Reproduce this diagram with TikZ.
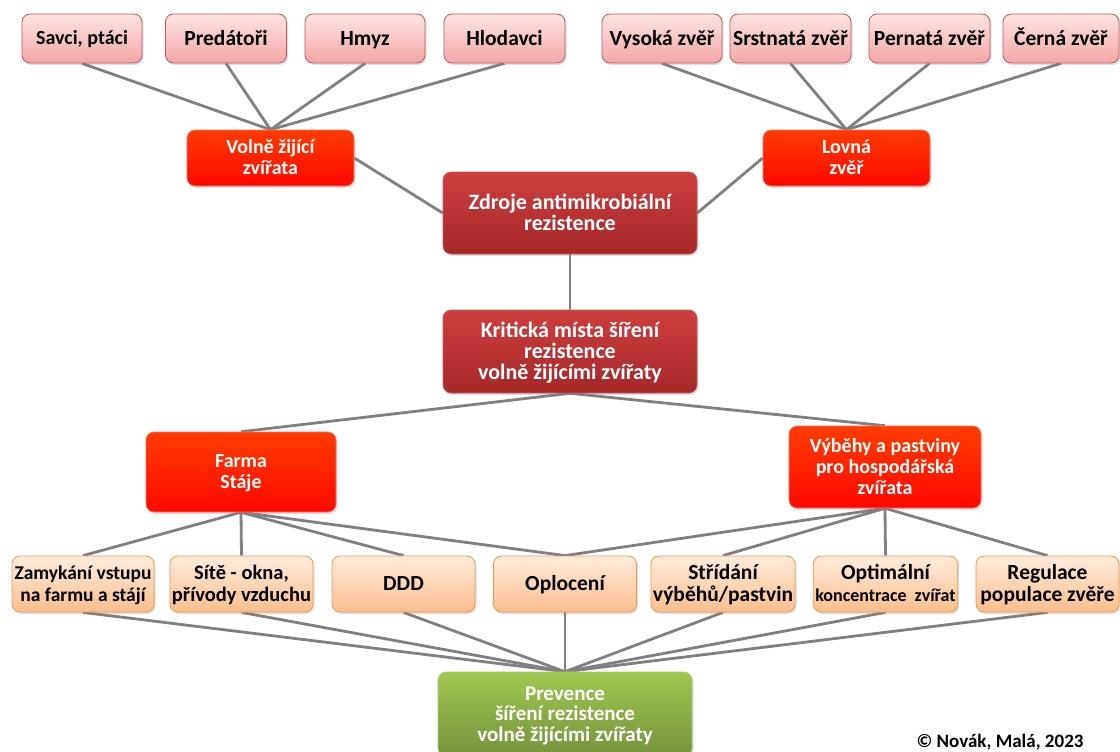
\documentclass[tikz,border=0pt]{standalone}
\usepackage{fontspec}
\setmainfont{Carlito}
\usetikzlibrary{shadows,backgrounds}

\definecolor{linkgray}{RGB}{128,128,128}
\definecolor{pinktop}{RGB}{253,228,228}
\definecolor{pinkbot}{RGB}{244,166,166}
\definecolor{pinkedge}{RGB}{196,86,84}
\definecolor{redtop}{RGB}{255,60,0}
\definecolor{redbot}{RGB}{255,8,0}
\definecolor{rededge}{RGB}{250,120,100}
\definecolor{darktop}{RGB}{206,62,62}
\definecolor{darkbot}{RGB}{165,40,40}
\definecolor{darkedge}{RGB}{200,90,90}
\definecolor{peachtop}{RGB}{255,236,220}
\definecolor{peachbot}{RGB}{251,190,140}
\definecolor{peachedge}{RGB}{247,150,70}
\definecolor{greentop}{RGB}{160,200,80}
\definecolor{greenbot}{RGB}{118,146,60}
\definecolor{greenedge}{RGB}{170,200,120}

\newcommand{\fsz}[2]{\fontsize{#1}{#2}\selectfont\bfseries}
% invisible rule beside the text block: it spans all lines of a box and
% places the block a little below the middle of the box
\def\boxlines{1}
\newcommand{\blockstrut}{\rule[-0.25em]{0pt}{\dimexpr\baselineskip*\boxlines-\baselineskip+0.894em+5pt\relax}}

\tikzset{
  x=1pt, y=-1pt,
  nlines/.code={\def\boxlines{#1}},
  boxbase/.style={rounded corners=8pt, align=center, inner sep=2pt,
    execute at begin node=\blockstrut, execute at end node=\blockstrut,
    drop shadow={opacity=0.25, shadow xshift=1.5pt, shadow yshift=-2pt}},
  leafbox/.style={boxbase, draw=pinkedge, line width=0.8pt,
    top color=pinktop, bottom color=pinkbot, text=black,
    font=\fsz{21.5}{24},
    minimum width=120pt, minimum height=49pt},
  groupbox/.style={boxbase, draw=rededge, line width=0.6pt,
    top color=redtop, bottom color=redbot, text=white,
    font=\fsz{20}{21}},
  corebox/.style={boxbase, draw=darkedge, line width=0.6pt,
    top color=darktop, bottom color=darkbot, text=white,
    font=\fsz{22}{21},
    minimum width=254pt},
  actbox/.style={boxbase, draw=peachedge, line width=0.8pt,
    top color=peachtop, bottom color=peachbot, text=black,
    font=\fsz{21.5}{22},
    minimum width=143pt, minimum height=56pt},
  goalbox/.style={boxbase, draw=greenedge, line width=0.6pt,
    top color=greentop, bottom color=greenbot, text=white,
    font=\fsz{21}{20.5},
    minimum width=254pt, minimum height=84pt},
  link/.style={draw=linkgray, line width=2.8pt},
}

\begin{document}
\begin{tikzpicture}
\useasboundingbox (0,0) rectangle (1120,752);

% sources: wild animals
\node[leafbox, font=\fsz{20}{24}] (savci) at (82,38.5) {Savci, ptáci};
\node[leafbox, minimum width=121pt] (predatori) at (226,38.5) {Predátoři};
\node[leafbox] (hmyz) at (365,38.5) {Hmyz};
\node[leafbox, minimum width=121pt] (hlodavci) at (504.5,38.5) {Hlodavci};
% sources: game
\node[leafbox] (vysoka) at (662,38.5) {Vysoká zvěř};
\node[leafbox, minimum width=121pt] (srstnata) at (790.5,38.5) {Srstnatá zvěř};
\node[leafbox, minimum width=121pt] (pernata) at (929.5,38.5) {Pernatá zvěř};
\node[leafbox, minimum width=116pt] (cerna) at (1061,38.5) {Černá zvěř};

\node[groupbox, nlines=2, minimum width=167pt, minimum height=56pt] (volne) at (270.5,158) {Volně žijící\\zvířata};
\node[groupbox, nlines=2, minimum width=167pt, minimum height=56pt] (lovna) at (846.5,158) {Lovná\\zvěř};

\node[corebox, nlines=2, minimum height=82pt] (zdroje) at (570,213) {Zdroje antimikrobiální\\rezistence};
\node[corebox, nlines=3, minimum height=83pt] (kriticka) at (570,351.5) {Kritická místa šíření\\rezistence\\volně žijícími zvířaty};

\node[groupbox, nlines=2, minimum width=190pt, minimum height=80pt] (farma) at (241,472) {Farma\\Stáje};
\node[groupbox, nlines=3, minimum width=192pt, minimum height=82pt] (vybehy) at (885,467) {Výběhy a pastviny\\pro hospodářská\\zvířata};

% preventive measures
\node[actbox, nlines=2, minimum width=142pt, font=\fsz{19.5}{22}] (zamykani) at (83,584) {Zamykání vstupu\\na farmu a stájí};
\node[actbox, nlines=2, font=\fsz{20.5}{22}] (site) at (241.5,584) {Sítě - okna,\\přívody vzduchu};
\node[actbox] (ddd) at (403.5,584) {DDD};
\node[actbox] (oploceni) at (565,584) {Oplocení};
\node[actbox, nlines=2] (stridani) at (723,584) {Střídání\\výběhů/pastvin};
\node[actbox, nlines=2] (optimalni) at (885.5,584) {Optimální\\{\fontsize{18}{22}\selectfont koncentrace\ \ zvířat}};
\node[actbox, nlines=2] (regulace) at (1047.5,584) {Regulace\\populace zvěře};

\node[goalbox, nlines=3] (prevence) at (565,714) {Prevence\\šíření rezistence\\volně žijícími zvířaty};

\node[font=\fsz{19}{20}, anchor=base] (copy) at (1000,747.5) {© Novák, Malá, 2023};

\begin{scope}[on background layer]
  \foreach \n in {savci,predatori,hmyz,hlodavci}
    \draw[link] (\n.south) -- (volne.north);
  \foreach \n in {vysoka,srstnata,pernata,cerna}
    \draw[link] (\n.south) -- (lovna.north);
  \draw[link] (volne.east) -- (zdroje.west);
  \draw[link] (lovna.west) -- (zdroje.east);
  \draw[link] (zdroje.south) -- (kriticka.north);
  \draw[link] (kriticka.south) -- (farma.north);
  \draw[link] (kriticka.south) -- (vybehy.north);
  \foreach \n in {zamykani,site,ddd,oploceni}
    \draw[link] (farma.south) -- (\n.north);
  \foreach \n in {oploceni,stridani,optimalni,regulace}
    \draw[link] (vybehy.south) -- (\n.north);
  \foreach \n in {zamykani,site,ddd,oploceni,stridani,optimalni,regulace}
    \draw[link] (\n.south) -- (prevence.north);
\end{scope}
\end{tikzpicture}
\end{document}
